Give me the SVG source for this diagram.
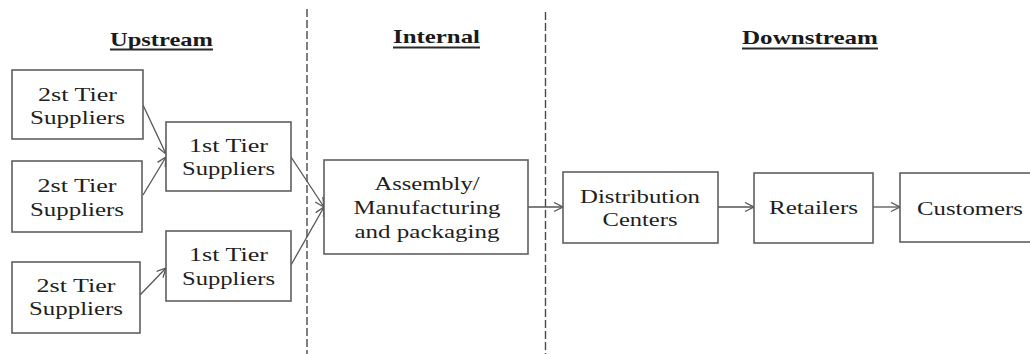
<svg xmlns="http://www.w3.org/2000/svg" width="1030" height="354" viewBox="0 0 1030 354">
  <style>
    .box { fill: #ffffff; stroke: #5f5f5f; stroke-width: 1.6; }
    .lbl { font-family: "Liberation Serif", "Times New Roman", serif; font-size: 18px; fill: #1e1e1e; text-anchor: middle; }
    .ttl { font-family: "Liberation Serif", "Times New Roman", serif; font-size: 19px; font-weight: bold; fill: #1a1a1a; }
    .uline { stroke: #2a2a2a; stroke-width: 2; }
    .divider { stroke: #4a4a4a; stroke-width: 1.4; stroke-dasharray: 8 3; fill: none; }
    .edge { stroke: #555555; stroke-width: 1.3; fill: none; marker-end: url(#vhead); }
  </style>
  <defs>
    <marker id="vhead" markerUnits="userSpaceOnUse" markerWidth="12" markerHeight="12" refX="10" refY="5" orient="auto">
      <path d="M1,0.5 L10,5 L1,9.5" fill="none" stroke="#555555" stroke-width="1.3"/>
    </marker>
  </defs>
  <rect width="1030" height="354" fill="#ffffff"/>

  <!-- section dividers -->
  <g id="dividers">
    <line class="divider" x1="307" y1="9" x2="307" y2="354"/>
    <line class="divider" x1="545.5" y1="12" x2="545.5" y2="354"/>
  </g>

  <!-- section headings -->
  <g id="headings">
    <text class="ttl" x="110" y="46" textLength="103" lengthAdjust="spacingAndGlyphs">Upstream</text>
    <line class="uline" x1="110" y1="49.5" x2="213" y2="49.5"/>
    <text class="ttl" x="393" y="43" textLength="87" lengthAdjust="spacingAndGlyphs">Internal</text>
    <line class="uline" x1="393" y1="47.5" x2="480" y2="47.5"/>
    <text class="ttl" x="742" y="44" textLength="136" lengthAdjust="spacingAndGlyphs">Downstream</text>
    <line class="uline" x1="742" y1="48.5" x2="878" y2="48.5"/>
  </g>

  <!-- connectors -->
  <g id="connectors">
    <line class="edge" x1="143" y1="105" x2="166" y2="154"/>
    <line class="edge" x1="143" y1="195" x2="166" y2="157"/>
    <line class="edge" x1="140" y1="295" x2="166" y2="268"/>
    <line class="edge" x1="291" y1="157" x2="324" y2="207"/>
    <line class="edge" x1="291" y1="265" x2="324" y2="207"/>
    <line class="edge" x1="528" y1="207" x2="563" y2="207"/>
    <line class="edge" x1="718" y1="207" x2="754" y2="207"/>
    <line class="edge" x1="873" y1="207" x2="900" y2="207"/>
  </g>

  <!-- upstream: second tier suppliers -->
  <g id="tier2-a">
    <rect class="box" x="12" y="70" width="131" height="69"/>
    <text class="lbl" x="77.5" y="101" textLength="79" lengthAdjust="spacingAndGlyphs">2st Tier</text>
    <text class="lbl" x="77.5" y="124" textLength="95" lengthAdjust="spacingAndGlyphs">Suppliers</text>
  </g>
  <g id="tier2-b">
    <rect class="box" x="12" y="161" width="130" height="71"/>
    <text class="lbl" x="77" y="192" textLength="79" lengthAdjust="spacingAndGlyphs">2st Tier</text>
    <text class="lbl" x="77" y="216" textLength="94" lengthAdjust="spacingAndGlyphs">Suppliers</text>
  </g>
  <g id="tier2-c">
    <rect class="box" x="12" y="262" width="128" height="71"/>
    <text class="lbl" x="76" y="292" textLength="79" lengthAdjust="spacingAndGlyphs">2st Tier</text>
    <text class="lbl" x="76" y="315" textLength="94" lengthAdjust="spacingAndGlyphs">Suppliers</text>
  </g>

  <!-- upstream: first tier suppliers -->
  <g id="tier1-a">
    <rect class="box" x="166" y="122" width="125" height="69"/>
    <text class="lbl" x="228.5" y="152" textLength="79" lengthAdjust="spacingAndGlyphs">1st Tier</text>
    <text class="lbl" x="228.5" y="175" textLength="93" lengthAdjust="spacingAndGlyphs">Suppliers</text>
  </g>
  <g id="tier1-b">
    <rect class="box" x="166" y="231" width="125" height="70"/>
    <text class="lbl" x="228.5" y="261" textLength="79" lengthAdjust="spacingAndGlyphs">1st Tier</text>
    <text class="lbl" x="228.5" y="285" textLength="93" lengthAdjust="spacingAndGlyphs">Suppliers</text>
  </g>

  <!-- internal -->
  <g id="assembly">
    <rect class="box" x="324" y="160" width="204" height="94"/>
    <text class="lbl" x="427" y="190" textLength="105" lengthAdjust="spacingAndGlyphs">Assembly/</text>
    <text class="lbl" x="427" y="214" textLength="147" lengthAdjust="spacingAndGlyphs">Manufacturing</text>
    <text class="lbl" x="427" y="238" textLength="145" lengthAdjust="spacingAndGlyphs">and packaging</text>
  </g>

  <!-- downstream -->
  <g id="distribution">
    <rect class="box" x="563" y="172" width="155" height="71"/>
    <text class="lbl" x="640" y="203" textLength="120" lengthAdjust="spacingAndGlyphs">Distribution</text>
    <text class="lbl" x="640" y="226" textLength="75" lengthAdjust="spacingAndGlyphs">Centers</text>
  </g>
  <g id="retailers">
    <rect class="box" x="754" y="173" width="119" height="70"/>
    <text class="lbl" x="813.5" y="214" textLength="89" lengthAdjust="spacingAndGlyphs">Retailers</text>
  </g>
  <g id="customers">
    <rect class="box" x="900" y="173" width="150" height="69"/>
    <text class="lbl" x="970" y="215" textLength="106" lengthAdjust="spacingAndGlyphs">Customers</text>
  </g>
</svg>
